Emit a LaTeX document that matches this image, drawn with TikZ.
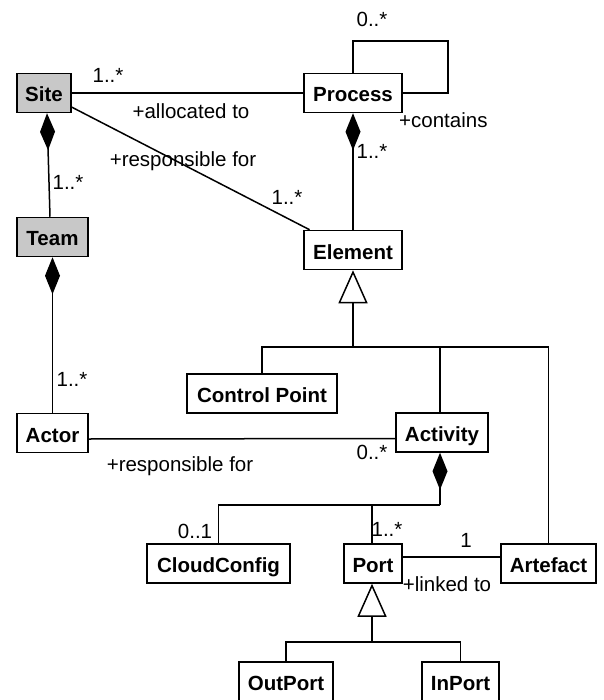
\documentclass[tikz,border=0pt]{standalone}
\usepackage{fontspec}
\setmainfont{Liberation Sans}
\usetikzlibrary{arrows.meta}
\definecolor{boxgray}{HTML}{C8C8C8}
\tikzset{
  cls/.style={draw=black, line width=1.5pt, fill=white, minimum height=39pt, inner sep=0pt, text height=18pt, text depth=0pt, font=\fontsize{20.5}{22}\selectfont\bfseries},
  grey/.style={cls, fill=boxgray},
  lbl/.style={inner sep=0pt, font=\fontsize{20.5}{22}\selectfont},
  conn/.style={line width=1.5pt},
  comp/.style={conn, {Diamond[length=37pt 0 0, width=15pt 0 0]}-},
  gen/.style={conn, {Triangle[open, length=33pt 0 0, width=29pt 0 0, fill=white]}-},
}
\begin{document}
\begin{tikzpicture}[x=1pt, y=-1pt]
\useasboundingbox (0,0) rectangle (603,700);
% classes
\node[grey, minimum width=54pt] (site) at (44,93) {Site};
\node[grey, minimum width=71pt] (team) at (52.5,237) {Team};
\node[cls, minimum width=98pt] (proc) at (353,93) {Process};
\node[cls, minimum width=98pt] (elem) at (353,250) {Element};
\node[cls, minimum width=150pt] (cp) at (262,393.5) {Control Point};
\node[cls, minimum width=92pt] (act) at (442,432.5) {Activity};
\node[cls, minimum width=71pt] (actor) at (52.5,433) {Actor};
\node[cls, minimum width=143pt] (cc) at (218.5,563.5) {CloudConfig};
\node[cls, minimum width=58pt] (port) at (373,563.5) {Port};
\node[cls, minimum width=95pt] (art) at (548.5,563.5) {Artefact};
\node[cls, minimum width=94pt] (outp) at (286,681.5) {OutPort};
\node[cls, minimum width=77pt] (inp) at (460.5,681.5) {InPort};
% junction coordinates
\coordinate (lp) at (448,41);
\coordinate (g1) at (353,347);
\coordinate (g2) at (440,505);
\coordinate (g3) at (372,642);
% Site -- Process
\draw[conn] (site.east) -- (proc.west);
\node[lbl] (m1) at (108,75) {1..*};
\node[lbl] (r1) at (191,111) {+allocated to};
% Site -- Element
\draw[conn] (site.-27) -- (elem.155);
\node[lbl] (r2) at (183,161) {+responsible for};
\node[lbl] (m2) at (287,197) {1..*};
% Process self loop
\draw[conn] (proc.north) |- (lp) |- (proc.east);
\node[lbl] (m3) at (372,19) {0..*};
\node[lbl, anchor=west] (r3) at (399,120) {+contains};
% Process composition Element
\draw[comp] (proc.south) -- (elem.north);
\node[lbl] (m4) at (372,151) {1..*};
% Site composition Team
\draw[comp] ([xshift=3pt]site.south) -- ([xshift=-2.5pt]team.north);
\node[lbl] (m5) at (68,182) {1..*};
% Team composition Actor
\draw[comp] (team.south) -- (actor.north);
\node[lbl] (m6) at (72,379) {1..*};
% Actor -- Activity
\draw[conn] ([yshift=-6pt]actor.east) -- ([yshift=-6pt]act.west);
\node[lbl] (r4) at (180,466) {+responsible for};
\node[lbl] (m7) at (372,452) {0..*};
% Element generalization
\draw[gen] (elem.south) -- (g1);
\draw[conn] (cp.north) |- (g1) -| (art.north);
\draw[conn] (act.north -| g2) -- (g2 |- g1);
% Activity composition
\draw[comp] (act.south -| g2) -- (g2);
\draw[conn] (g2) -| (cc.north);
\draw[conn] (port.north -| g3) -- (g3 |- g2);
\node[lbl] (m8) at (195,531) {0..1};
\node[lbl] (m9) at (387,529) {1..*};
% Port -- Artefact
\draw[conn] ([yshift=6.5pt]port.east) -- ([yshift=6.5pt]art.west);
\node[lbl] (m10) at (466,540) {1};
\node[lbl] (r5) at (447,584) {+linked to};
% Port generalization
\draw[gen] (port.south -| g3) -- (g3);
\draw[conn] (outp.north) |- (g3) -| (inp.north);
\end{tikzpicture}
\end{document}
